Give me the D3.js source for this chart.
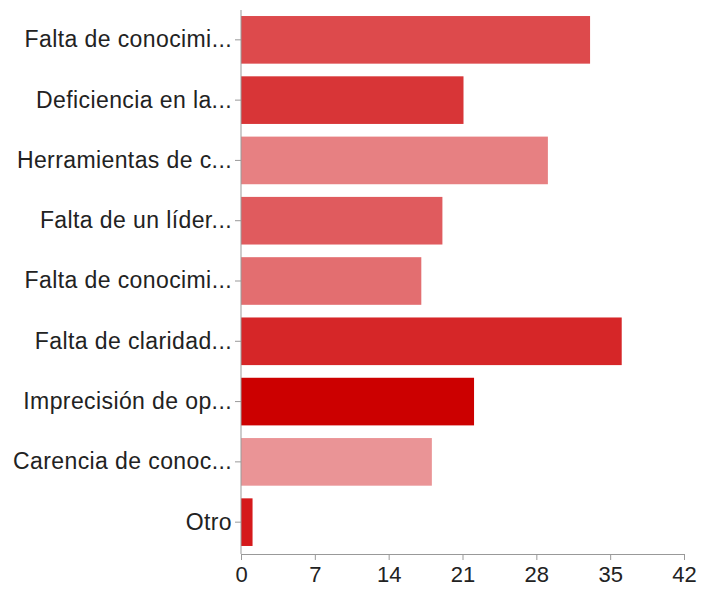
<!DOCTYPE html>
<html>
<head>
<meta charset="utf-8">
<script src="https://cdn.jsdelivr.net/npm/d3@7"></script>
<style>
body { margin: 0; background: #fff; }
text { font-family: "Liberation Sans", Arial, sans-serif; }
</style>
</head>
<body>
<svg id="chart" width="702" height="589"></svg>
<script>
var svg = d3.select("#chart");

var categories = [
	"Falta de conocimi...",
	"Deficiencia en la...",
	"Herramientas de c...",
	"Falta de un líder...",
	"Falta de conocimi... ",
	"Falta de claridad...",
	"Imprecisión de op...",
	"Carencia de conoc...",
	"Otro"
];
var values = [33, 21, 29, 19, 17, 36, 22, 18, 1];
var colors = ["#dd4a4c", "#d83537", "#e78082", "#e05b5e", "#e36e70", "#d62628", "#cc0000", "#ea9496", "#d5191b"];
var ticks = [0, 7, 14, 21, 28, 35, 42];

var plotLeft = 241, plotRight = 684, plotTop = 10, plotBottom = 552, axisY = 554;

var x = d3.scaleLinear().domain([0, 42]).range([plotLeft, plotRight]);
var y = d3.scaleBand().domain(categories).range([plotTop, plotBottom]).paddingInner(0.21).paddingOuter(0.1);

svg.selectAll("rect.bar")
	.data(values).enter().append("rect")
	.attr("class", "bar")
	.attr("x", x(0))
	.attr("y", function(d, i){ return y(categories[i]); })
	.attr("width", function(d){ return x(d) - x(0) + 1; })
	.attr("height", y.bandwidth())
	.attr("fill", function(d, i){ return colors[i]; });

var xAxis = svg.append("g")
	.attr("transform", "translate(0," + axisY + ")")
	.call(d3.axisBottom(x).tickValues(ticks).tickSizeOuter(0).tickSize(6).tickPadding(6));
xAxis.selectAll("text").attr("font-size", 22).attr("fill", "#222").attr("font-family", null);

var yAxis = svg.append("g")
	.attr("transform", "translate(" + plotLeft + ",0)")
	.call(d3.axisLeft(y).tickSizeOuter(0).tickSize(6).tickPadding(3));
yAxis.select(".domain").attr("d", "M0," + plotTop + "V" + axisY);
yAxis.selectAll("text").attr("font-size", 23).attr("letter-spacing", "0.4px")
	.attr("fill", "#222").attr("font-family", null);

svg.selectAll(".domain, .tick line").attr("stroke", "#999");
</script>
</body>
</html>
